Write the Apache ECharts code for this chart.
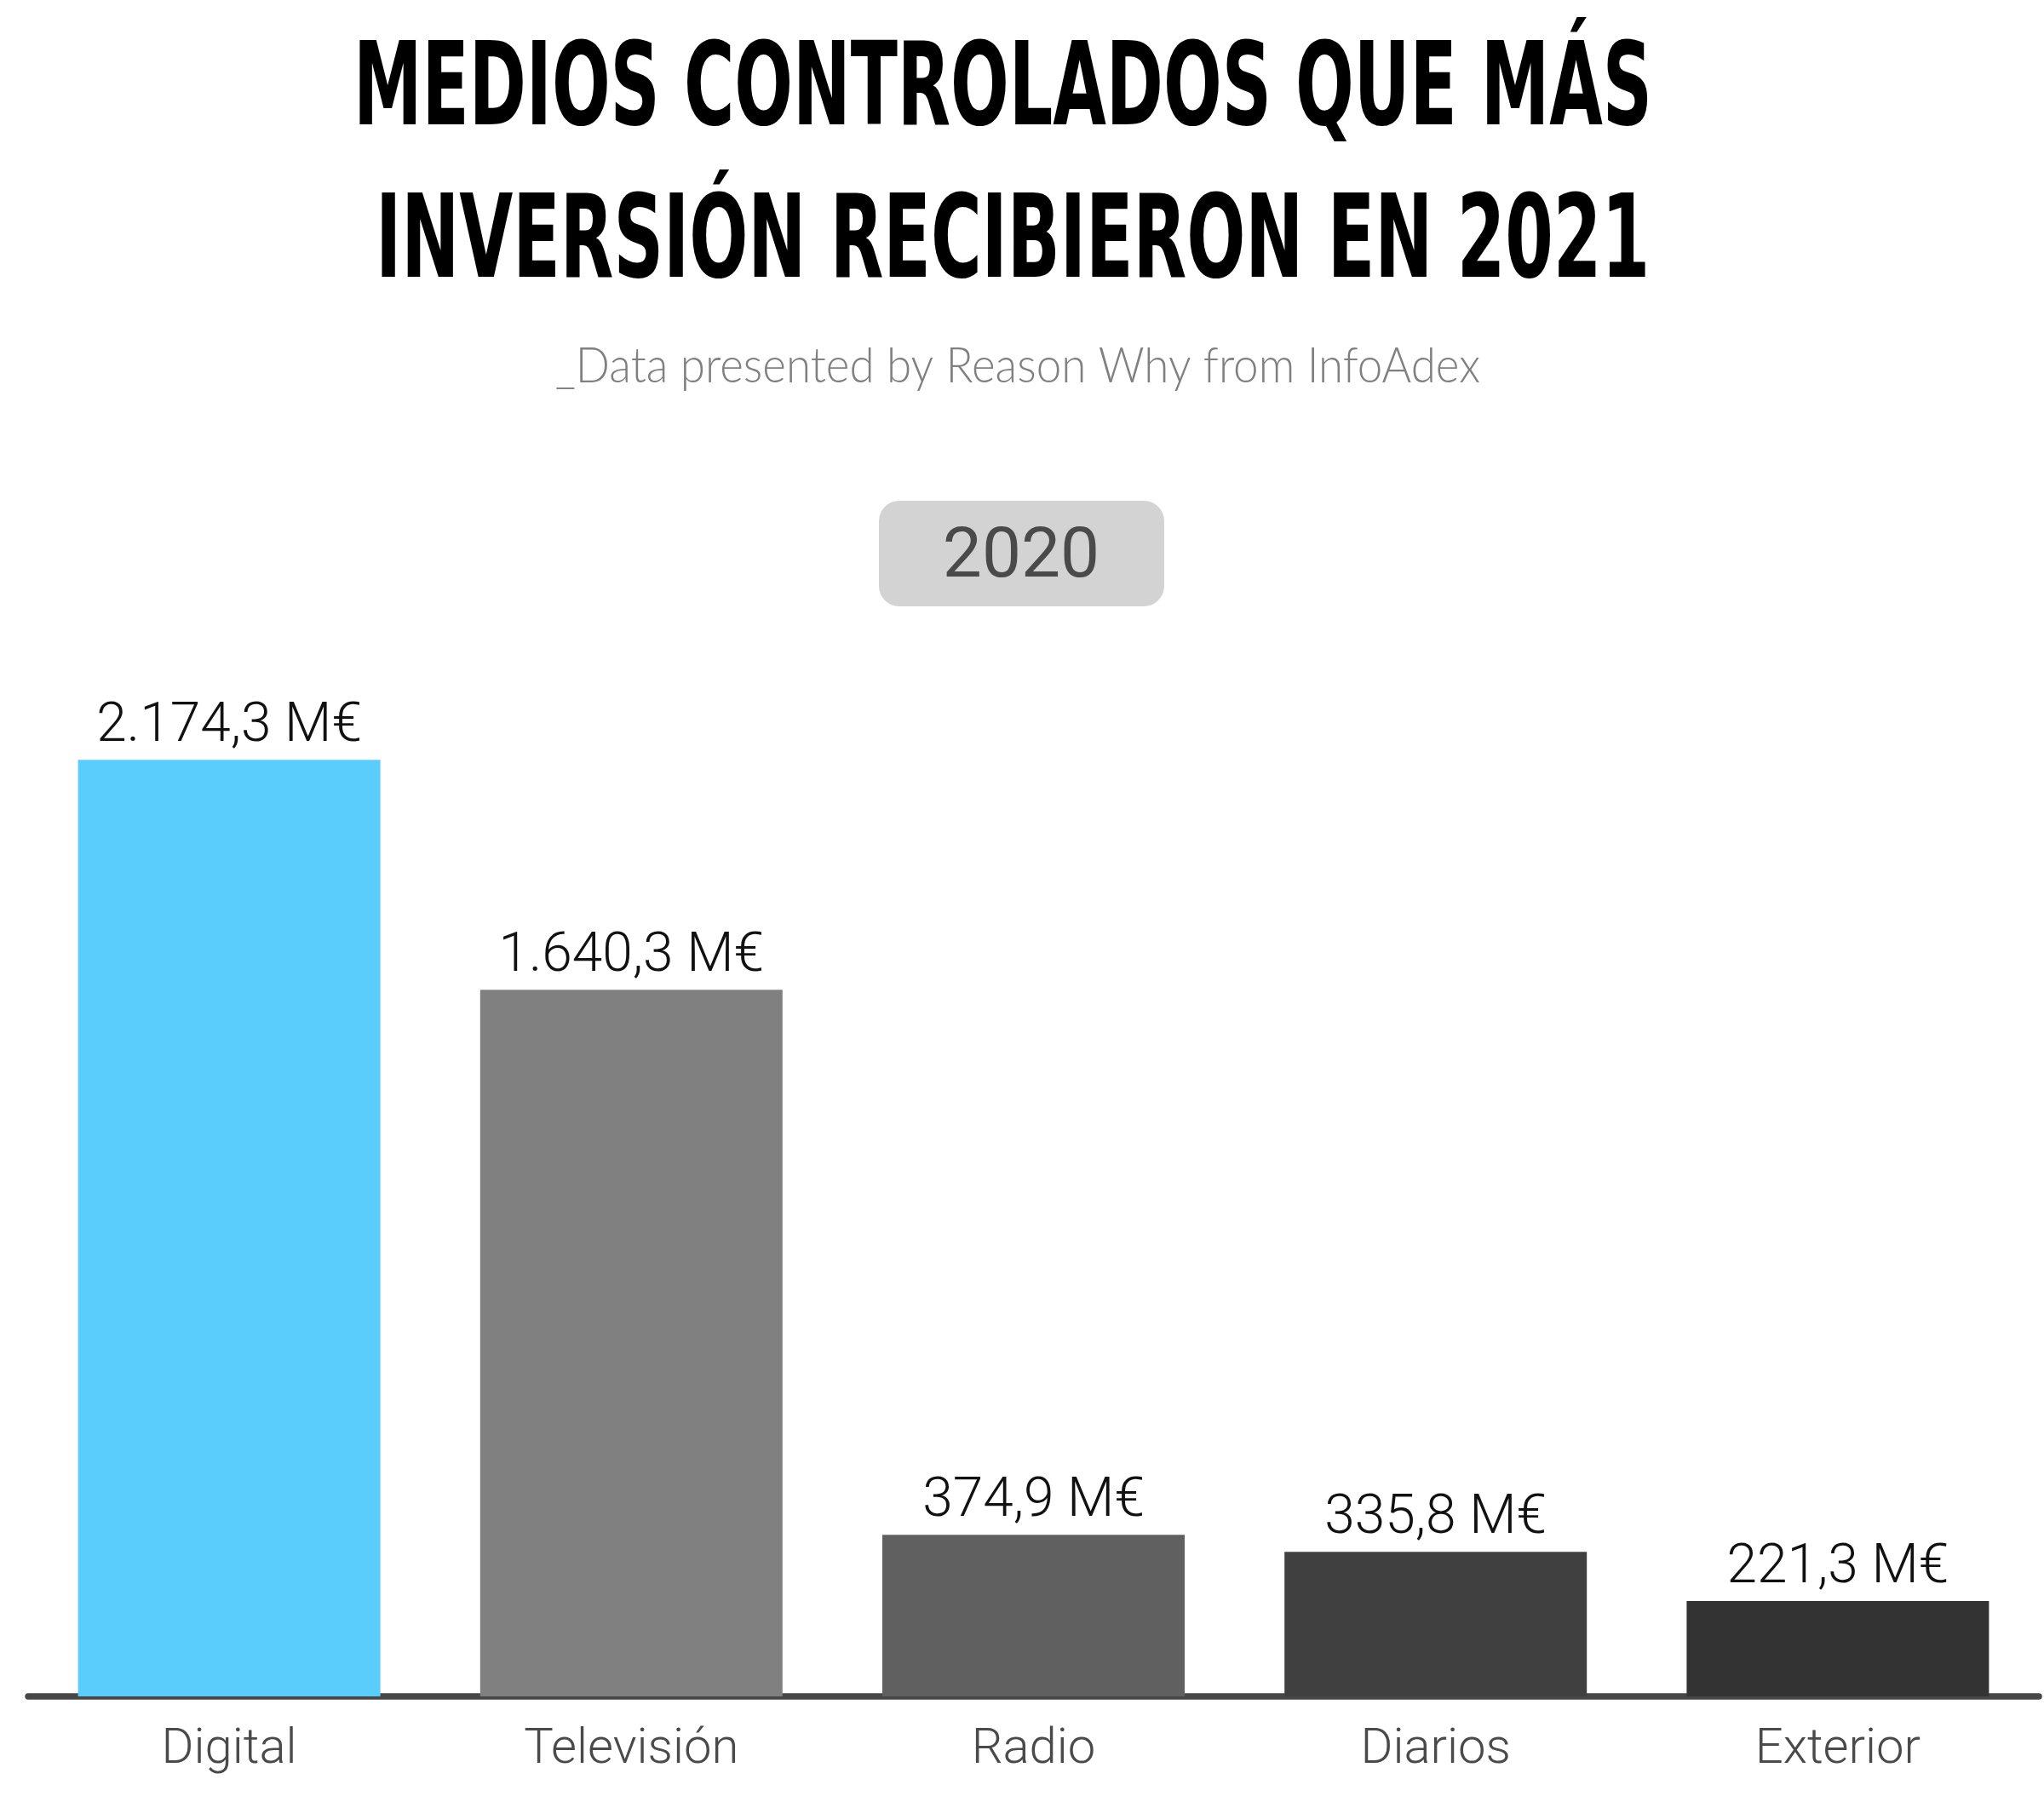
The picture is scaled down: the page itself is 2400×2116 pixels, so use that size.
<!DOCTYPE html>
<html>
<head>
<meta charset="utf-8">
<script src="https://cdn.jsdelivr.net/npm/echarts@6/dist/echarts.min.js"></script>
<style>
html,body{margin:0;padding:0;background:#fff;}
#chart{width:2400px;height:2116px;}
</style>
</head>
<body>
<div id="chart"></div>
<script>
const titleLines = ['MEDIOS CONTROLADOS QUE MÁS', 'INVERSIÓN RECIBIERON EN 2021'];
const subtitleText = '_Data presented by Reason Why from InfoAdex';
const yearLabel = '2020';
const categories = ['Digital', 'Televisión', 'Radio', 'Diarios', 'Exterior'];
const values = [2174.3, 1640.3, 374.9, 335.8, 221.3];
const unitSuffix = ' M€';

const barColors = ['#5BCDFD', '#808080', '#606060', '#404040', '#333333'];

function fmt(v) {
  const parts = v.toFixed(1).split('.');
  const intPart = parts[0].replace(/\B(?=(\d{3})+(?!\d))/g, '.');
  return intPart + ',' + parts[1] + unitSuffix;
}

const measureCtx = document.createElement('canvas').getContext('2d');
function textWidth(font, text) {
  measureCtx.font = font;
  return measureCtx.measureText(text).width;
}

function scaledText(text, font, left, middleY, targetWidth, color) {
  const w = textWidth(font, text);
  return {
    type: 'text',
    x: left,
    y: middleY,
    scaleX: targetWidth / w,
    scaleY: 1,
    originX: 0,
    originY: 0,
    z: 10,
    style: {
      text: text,
      font: font,
      fill: color,
      align: 'left',
      textAlign: 'left',
      verticalAlign: 'middle',
      textVerticalAlign: 'middle'
    }
  };
}

const titleFont = "bold 136px 'DejaVu Sans Condensed', 'DejaVu Sans', sans-serif";
const subFont = "300 58px Lato, Roboto, sans-serif";

const chart = echarts.init(document.getElementById('chart'), null, { renderer: 'canvas' });

const option = {
  backgroundColor: '#ffffff',
  animation: false,
  graphic: [
    scaledText(titleLines[0], titleFont, 415, 111, 1525, '#000000'),
    scaledText(titleLines[1], titleFont, 441, 290, 1496, '#000000'),
    scaledText(subtitleText, subFont, 652, 430, 1086, '#808080'),
    {
      type: 'rect',
      shape: { x: 1032, y: 588, width: 335, height: 124, r: 24 },
      style: { fill: '#d3d3d3' },
      z: 5
    },
    {
      type: 'text',
      x: 1199,
      y: 656,
      z: 10,
      style: {
        text: yearLabel,
        font: "400 82px Roboto, sans-serif",
        fill: '#4a4a4a',
        align: 'center',
        textAlign: 'center',
        verticalAlign: 'middle',
        textVerticalAlign: 'middle'
      }
    }
  ],
  grid: {
    left: 33,
    right: 6,
    top: 778,
    bottom: 124,
    containLabel: false
  },
  xAxis: {
    type: 'category',
    data: categories,
    offset: 4,
    axisLine: { show: true, lineStyle: { color: '#474747', width: 7.5 } },
    axisTick: { show: false },
    axisLabel: {
      margin: 30,
      fontFamily: 'Roboto, sans-serif',
      fontWeight: 300,
      fontSize: 58,
      color: '#4a4a4a'
    },
    splitLine: { show: false }
  },
  yAxis: {
    type: 'value',
    min: 0,
    max: 2400,
    show: false,
    splitLine: { show: false }
  },
  series: [{
    type: 'bar',
    barWidth: 355,
    data: values.map((v, i) => ({ value: v, itemStyle: { color: barColors[i] } })),
    label: {
      show: true,
      position: 'top',
      distance: 6,
      formatter: p => fmt(p.value),
      fontFamily: 'Roboto, sans-serif',
      fontWeight: 300,
      fontSize: 64,
      color: '#111111'
    }
  }]
};

chart.setOption(option);
</script>
</body>
</html>
